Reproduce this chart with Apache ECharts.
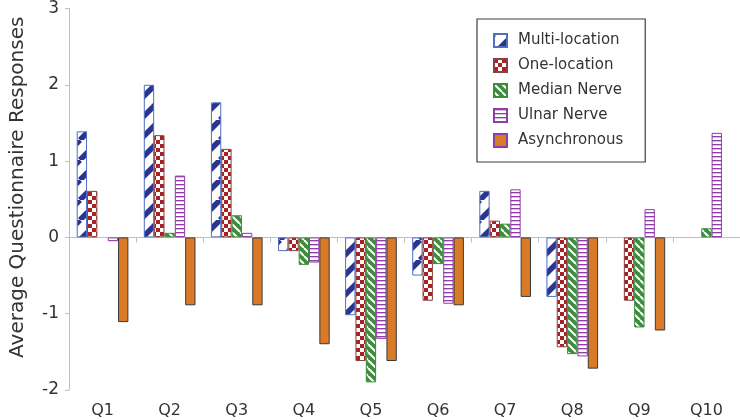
<!DOCTYPE html>
<html>
<head>
<meta charset="utf-8">
<script src="https://cdn.jsdelivr.net/npm/echarts@6/dist/echarts.min.js"></script>
<style>html,body{margin:0;padding:0;background:#fff}#c{width:740px;height:420px}</style>
</head>
<body>
<div id="c"></div>
<script>
const categories = ['Q1','Q2','Q3','Q4','Q5','Q6','Q7','Q8','Q9','Q10'];
const seriesNames = ['Multi-location','One-location','Median Nerve','Ulnar Nerve','Asynchronous'];
const multiLocation = [1.39, 2.00, 1.77, -0.18, -1.02, -0.50, 0.61, -0.78, null, null];
const oneLocation   = [0.61, 1.34, 1.16, -0.18, -1.62, -0.83, 0.22, -1.44, -0.83, null];
const medianNerve   = [null, 0.06, 0.29, -0.36, -1.90, -0.35, 0.18, -1.53, -1.18, 0.12];
const ulnarNerve    = [-0.05, 0.81, 0.06, -0.33, -1.33, -0.87, 0.63, -1.56, 0.37, 1.37];
const asynchronous  = [-1.11, -0.89, -0.89, -1.40, -1.62, -0.89, -0.78, -1.72, -1.22, null];
const yTicks = [-2, -1, 0, 1, 2, 3];

function pattern(w, h, draw) {
  const c = document.createElement('canvas');
  c.width = w; c.height = h;
  const g = c.getContext('2d');
  draw(g, w, h);
  return { image: c, repeat: 'repeat' };
}
const pMulti = pattern(20, 20, (g, w, h) => {
  g.fillStyle = '#ffffff'; g.fillRect(0, 0, w, h);
  g.strokeStyle = '#2b3590'; g.lineWidth = 5.5;
  for (let k = -1; k <= 1; k++) { g.beginPath(); g.moveTo(k * w, h); g.lineTo(k * w + w, 0); g.stroke(); }
});
const pOne = pattern(8, 8, (g) => {
  g.fillStyle = '#ffffff'; g.fillRect(0, 0, 8, 8);
  g.fillStyle = '#a82222'; g.fillRect(0, 0, 4, 4); g.fillRect(4, 4, 4, 4);
});
const pMedian = pattern(8, 8, (g, w, h) => {
  g.fillStyle = '#3d8b3d'; g.fillRect(0, 0, w, h);
  g.strokeStyle = '#ffffff'; g.lineWidth = 2;
  for (let k = -1; k <= 1; k++) { g.beginPath(); g.moveTo(k * w, 0); g.lineTo(k * w + w, h); g.stroke(); }
});
const pUlnar = pattern(4, 4, (g) => {
  g.fillStyle = '#ffffff'; g.fillRect(0, 0, 4, 4);
  g.fillStyle = '#8e3ea6'; g.fillRect(0, 0, 4, 1);
  g.fillStyle = 'rgba(142,62,166,0.35)'; g.fillRect(0, 1, 4, 1);
});

const styles = [
  { color: pMulti, borderColor: '#4f6fc0' },
  { color: pOne, borderColor: '#8c4040' },
  { color: pMedian, borderColor: '#3d8b3d' },
  { color: pUlnar, borderColor: '#8e3ea6' },
  { color: '#d97a28', borderColor: '#3a3a3a' }
];
const values = [multiLocation, oneLocation, medianNerve, ulnarNerve, asynchronous];

const chart = echarts.init(document.getElementById('c'), null, { renderer: 'canvas' });
const font = 'DejaVu Sans';
chart.setOption({
  animation: false,
  backgroundColor: '#ffffff',
  grid: { left: 64, right: 0, top: 7, bottom: 30, containLabel: false },
  legend: {
    orient: 'vertical', left: 477, top: 19,
    padding: [14, 22, 14, 16], itemGap: 10,
    itemWidth: 13, itemHeight: 13, icon: 'rect',
    borderColor: '#3f3f3f', borderWidth: 1.2, backgroundColor: '#ffffff',
    textStyle: { fontFamily: font, fontSize: 15, color: '#333333', padding: [0, 0, 0, 6] },
    data: seriesNames.map((n, i) => i === 4 ? { name: n, itemStyle: { borderColor: '#8e3ea6' } } : { name: n })
  },
  xAxis: [
    {
      type: 'category', data: categories, position: 'top',
      axisLine: { onZero: true, lineStyle: { color: '#bfbfbf', width: 1 } },
      axisTick: { show: true, inside: true, length: 5, lineStyle: { color: '#bfbfbf' } },
      axisLabel: { show: false }, splitLine: { show: false }
    },
    {
      type: 'category', data: categories, position: 'bottom',
      axisLine: { show: false }, axisTick: { show: false },
      axisLabel: { fontFamily: font, fontSize: 16, color: '#333333', margin: 13 }
    }
  ],
  yAxis: {
    type: 'value', min: yTicks[0], max: yTicks[yTicks.length - 1], interval: 1,
    name: 'Average Questionnaire Responses', nameLocation: 'middle', nameGap: 41,
    nameTextStyle: { fontFamily: font, fontSize: 20, color: '#333333', padding: [0, 0, 0, 24] },
    axisLine: { show: true, lineStyle: { color: '#bfbfbf' } },
    axisTick: { show: true, length: 4, lineStyle: { color: '#bfbfbf' } },
    axisLabel: { fontFamily: font, fontSize: 17, color: '#333333', margin: 10 },
    splitLine: { show: false }
  },
  series: seriesNames.map((n, i) => ({
    name: n, type: 'bar', xAxisIndex: 0, data: values[i],
    barGap: '0%', barCategoryGap: '23%',
    itemStyle: { color: styles[i].color, borderColor: styles[i].borderColor, borderWidth: 1 }
  }))
});
</script>
</body>
</html>
